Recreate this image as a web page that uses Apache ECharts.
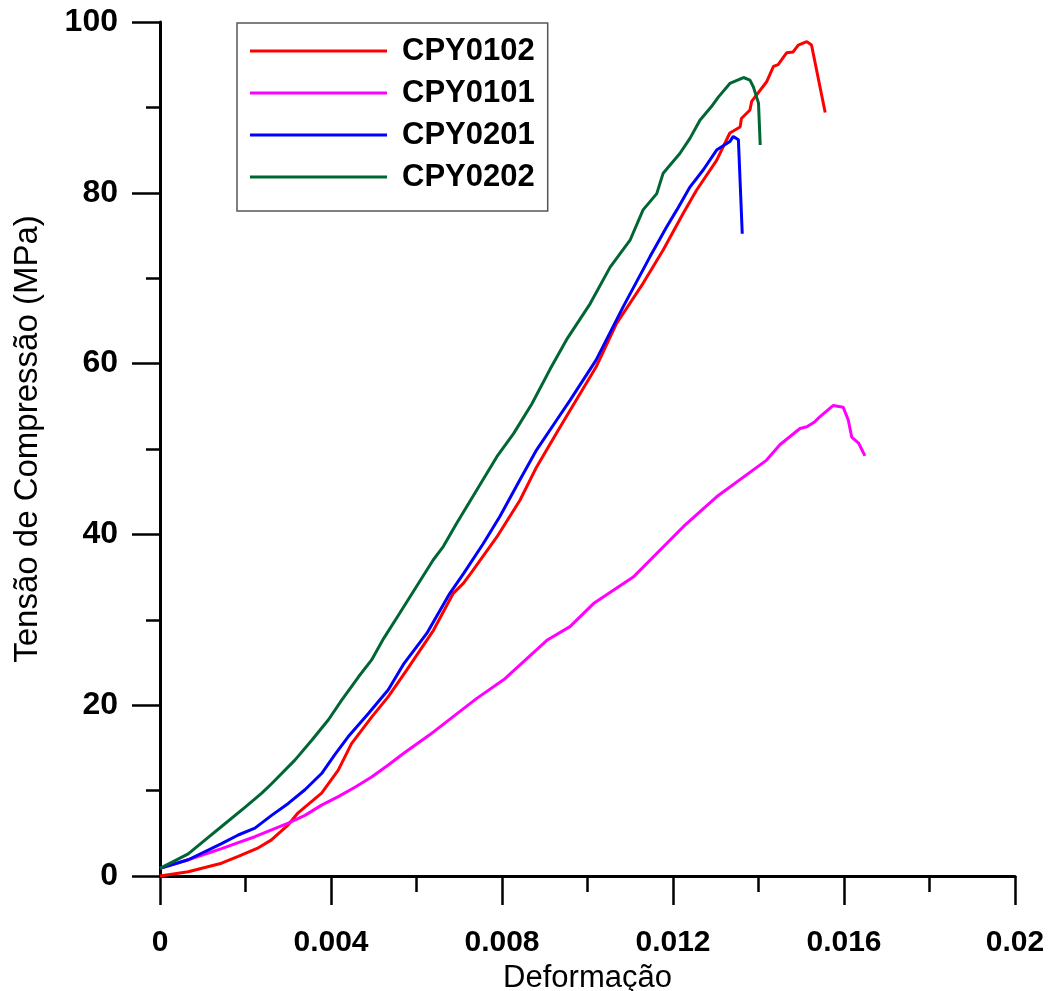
<!DOCTYPE html>
<html><head><meta charset="utf-8">
<script src="https://cdn.jsdelivr.net/npm/echarts@6/dist/echarts.min.js"></script>
<style>html,body{margin:0;padding:0;background:#fff}#c{width:1051px;height:991px}</style>
</head><body><div id="c"></div>
<script>
const seriesNames = ['CPY0102', 'CPY0101', 'CPY0201', 'CPY0202'];
const seriesColors = ['#ff0000', '#ff00ff', '#0000ff', '#006633'];

const strain0102 = [0, 0.00066, 0.00144, 0.00183, 0.0023, 0.0026, 0.0030, 0.00323, 0.00378, 0.00417, 0.00448, 0.00495, 0.00534, 0.00577, 0.0064, 0.00686, 0.0071, 0.00732, 0.00788, 0.00842, 0.00881, 0.00928, 0.00965, 0.0102, 0.01068, 0.0113, 0.01177, 0.01224, 0.01255, 0.01302, 0.01333, 0.01357, 0.0136, 0.0138, 0.01384, 0.01419, 0.01435, 0.01446, 0.01466, 0.01481, 0.01493, 0.01513, 0.01524, 0.01556];
const stress0102 = [0, 0.5, 1.5, 2.3, 3.3, 4.2, 6.0, 7.4, 9.7, 12.4, 15.5, 18.6, 21.0, 24.1, 28.8, 33.1, 34.3, 35.8, 39.7, 44.0, 47.9, 51.9, 55.0, 59.6, 64.7, 69.4, 73.3, 77.6, 80.3, 83.8, 87.0, 87.7, 88.7, 89.7, 90.7, 93.0, 94.8, 95.0, 96.4, 96.5, 97.3, 97.7, 97.3, 89.4];

const strain0101 = [0, 0.00066, 0.00144, 0.00183, 0.00222, 0.00261, 0.003, 0.00339, 0.00378, 0.00417, 0.00456, 0.00495, 0.00534, 0.00571, 0.0063, 0.00741, 0.00807, 0.00905, 0.00959, 0.01014, 0.01107, 0.01224, 0.01302, 0.01419, 0.0145, 0.01497, 0.01513, 0.01532, 0.01544, 0.01575, 0.01598, 0.0161, 0.01618, 0.01634, 0.01649];
const stress0101 = [0.9, 1.9, 3.2, 3.9, 4.6, 5.4, 6.2, 7.1, 8.3, 9.3, 10.4, 11.6, 13.0, 14.4, 16.5, 20.8, 23.1, 27.6, 29.2, 31.9, 35.0, 40.9, 44.4, 48.7, 50.5, 52.4, 52.6, 53.2, 53.8, 55.1, 54.9, 53.4, 51.4, 50.7, 49.2];

const strain0201 = [0, 0.00066, 0.00144, 0.00183, 0.00222, 0.00261, 0.003, 0.00339, 0.00378, 0.00409, 0.0044, 0.00487, 0.00534, 0.00571, 0.00624, 0.00678, 0.0071, 0.00756, 0.00795, 0.00842, 0.00881, 0.00928, 0.00959, 0.0102, 0.01084, 0.01146, 0.01185, 0.01209, 0.0124, 0.01271, 0.01302, 0.01333, 0.01341, 0.01353, 0.01362];
const stress0201 = [0.9, 1.9, 3.8, 4.8, 5.6, 7.1, 8.5, 10.1, 12.0, 14.2, 16.3, 19.0, 21.8, 24.9, 28.4, 33.1, 35.4, 38.9, 42.1, 46.4, 49.9, 53.4, 55.7, 60.4, 66.7, 72.5, 76.0, 78.0, 80.7, 82.7, 85.0, 86.0, 86.6, 86.2, 75.2];

const strain0202 = [0, 0.00066, 0.00105, 0.00144, 0.002, 0.00238, 0.00261, 0.00316, 0.00355, 0.00394, 0.00425, 0.00464, 0.00495, 0.00523, 0.00561, 0.006, 0.00639, 0.00663, 0.00694, 0.00741, 0.00788, 0.00827, 0.0087, 0.00912, 0.00951, 0.01006, 0.01053, 0.011, 0.0113, 0.01162, 0.01177, 0.01216, 0.0124, 0.01263, 0.0129, 0.01306, 0.01333, 0.01365, 0.0138, 0.01388, 0.014, 0.01404];
const stress0202 = [0.9, 2.6, 4.2, 5.8, 8.1, 9.7, 10.8, 13.6, 15.9, 18.3, 20.6, 23.3, 25.3, 27.8, 30.8, 33.9, 37.0, 38.6, 41.3, 45.2, 49.1, 51.8, 55.3, 59.3, 62.8, 67.0, 71.3, 74.5, 78.0, 79.9, 82.3, 84.6, 86.4, 88.5, 90.1, 91.2, 92.8, 93.5, 93.2, 92.4, 90.5, 85.6];

const xTitle = 'Deformação';
const yTitle = 'Tensão de Compressão (MPa)';

const strains = [strain0102, strain0101, strain0201, strain0202];
const stresses = [stress0102, stress0101, stress0201, stress0202];

function pairs(xs, ys) { return xs.map((x, i) => [x, ys[i]]); }

const chart = echarts.init(document.getElementById('c'), null, {renderer: 'canvas'});
chart.setOption({
  animation: false,
  backgroundColor: '#fff',
  grid: {left: 160, right: 36, top: 22, bottom: 115, containLabel: false, outerBoundsMode: 'none'},
  legend: {
    show: true,
    orient: 'vertical',
    left: 237, top: 23,
    padding: [12, 13, 18, 13],
    itemGap: 10,
    icon: 'rect',
    itemWidth: 137, itemHeight: 3,
    borderColor: '#555', borderWidth: 1.5,
    data: seriesNames,
    textStyle: {fontFamily: 'Liberation Sans', fontWeight: 'bold', fontSize: 31, color: '#000', lineHeight: 32, padding: [0, 0, 0, 10]}
  },
  xAxis: {
    type: 'value', min: 0, max: 0.02, interval: 0.004,
    axisLine: {show: true, onZero: false, lineStyle: {color: '#000', width: 3}},
    splitLine: {show: false}, minorSplitLine: {show: false},
    axisTick: {show: true, length: 29, lineStyle: {color: '#000', width: 2.5}},
    minorTick: {show: true, splitNumber: 2, length: 16, lineStyle: {color: '#000', width: 2.5}},
    axisLabel: {margin: 52, fontFamily: 'Liberation Sans', fontWeight: 'bold', fontSize: 30, color: '#000',
      formatter: v => String(+v.toFixed(4))},
    name: xTitle, nameLocation: 'middle', nameGap: 80,
    nameTextStyle: {fontFamily: 'Liberation Sans', fontSize: 31, color: '#000'}
  },
  yAxis: {
    type: 'value', min: 0, max: 100, interval: 20,
    axisLine: {show: true, onZero: false, lineStyle: {color: '#000', width: 3}},
    splitLine: {show: false}, minorSplitLine: {show: false},
    axisTick: {show: true, length: 28, lineStyle: {color: '#000', width: 2.5}},
    minorTick: {show: true, splitNumber: 2, length: 14, lineStyle: {color: '#000', width: 2.5}},
    axisLabel: {margin: 42, fontFamily: 'Liberation Sans', fontWeight: 'bold', fontSize: 32, color: '#000'},
    name: yTitle, nameLocation: 'middle', nameGap: 116, nameRotate: 90,
    nameTextStyle: {fontFamily: 'Liberation Sans', fontSize: 33, color: '#000', padding: [0, 0, 0, 20]}
  },
  series: seriesNames.map((n, i) => ({
    name: n, type: 'line', data: pairs(strains[i], stresses[i]),
    showSymbol: false, symbol: 'none', smooth: false,
    lineStyle: {color: seriesColors[i], width: 3},
    itemStyle: {color: seriesColors[i]}
  }))
});
</script></body></html>
